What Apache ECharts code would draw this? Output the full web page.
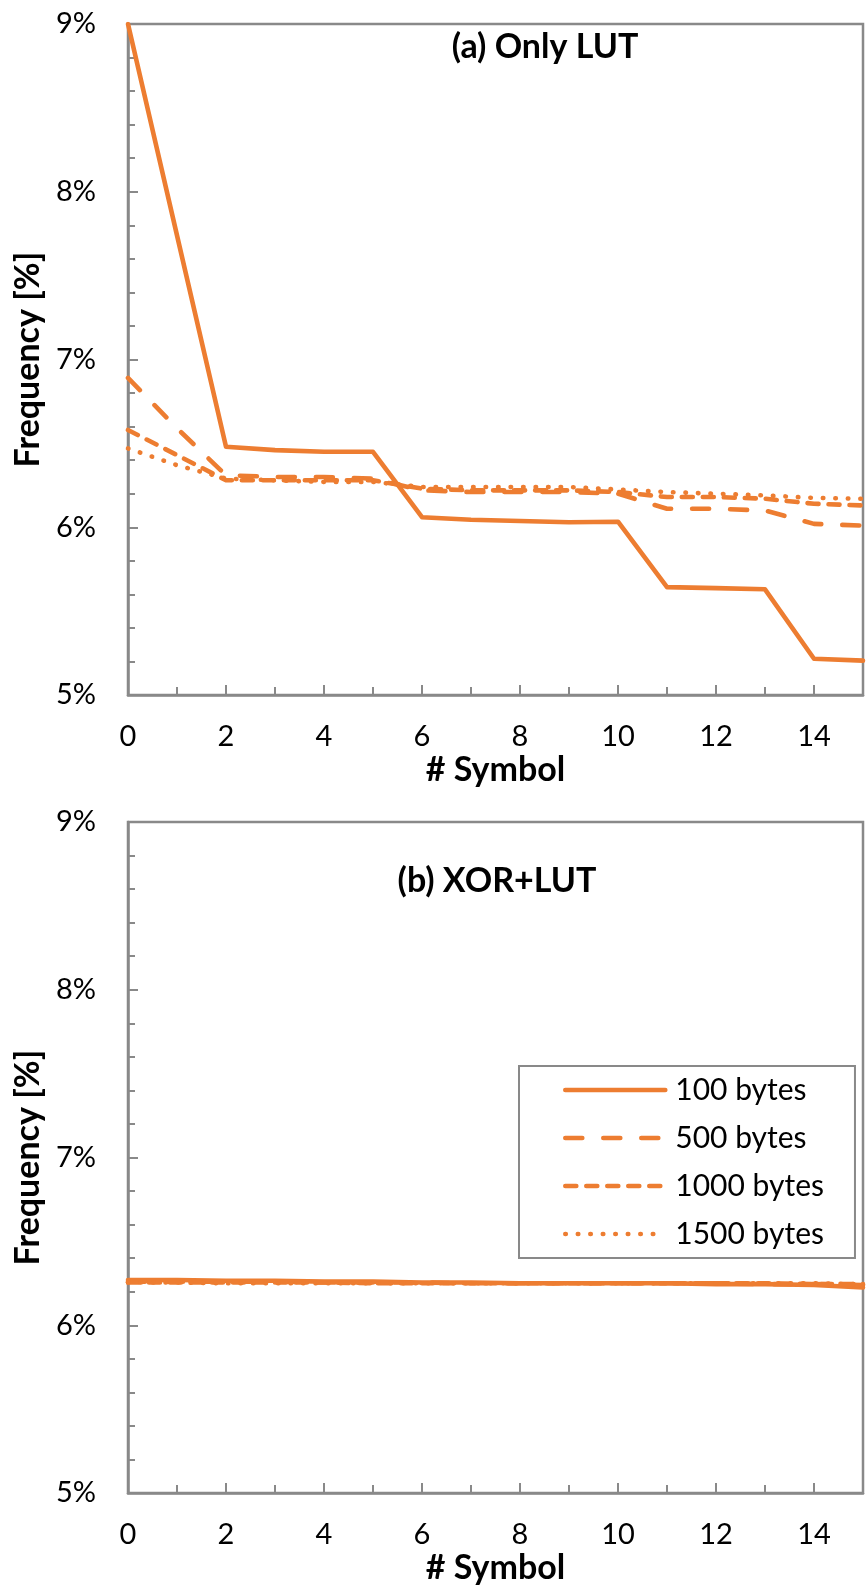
<!DOCTYPE html>
<html>
<head>
<meta charset="utf-8">
<script src="https://cdn.jsdelivr.net/npm/echarts@6/dist/echarts.min.js"></script>
<style>
  html, body { margin: 0; padding: 0; background: #ffffff; }
  #chart { width: 866px; height: 1589px; }
</style>
</head>
<body>
<div id="chart"></div>
<script>
// ---- data ----
const symbols = [0, 1, 2, 3, 4, 5, 6, 7, 8, 9, 10, 11, 12, 13, 14, 15];
const seriesNames = ['100 bytes', '500 bytes', '1000 bytes', '1500 bytes'];
const yTicks = ['5%', '6%', '7%', '8%', '9%'];

// (a) Only LUT  (values in %)
const lut100  = [9.00, 7.74, 6.48, 6.46, 6.45, 6.45, 6.06, 6.045, 6.037, 6.03, 6.033, 5.643, 5.637, 5.63, 5.216, 5.205];
const lut500  = [6.89, 6.59, 6.31, 6.30, 6.30, 6.29, 6.22, 6.21, 6.21, 6.21, 6.20, 6.11, 6.11, 6.10, 6.02, 6.01];
const lut1000 = [6.58, 6.43, 6.28, 6.28, 6.28, 6.28, 6.23, 6.22, 6.22, 6.22, 6.21, 6.18, 6.18, 6.17, 6.14, 6.13];
const lut1500 = [6.47, 6.37, 6.29, 6.28, 6.27, 6.27, 6.24, 6.24, 6.24, 6.24, 6.225, 6.21, 6.20, 6.19, 6.175, 6.17];

// (b) XOR+LUT  (values in %)
const xor100  = [6.27, 6.27, 6.265, 6.265, 6.26, 6.26, 6.255, 6.255, 6.25, 6.25, 6.25, 6.25, 6.245, 6.245, 6.24, 6.225];
const xor500  = [6.26, 6.26, 6.26, 6.26, 6.255, 6.255, 6.255, 6.25, 6.25, 6.25, 6.25, 6.25, 6.25, 6.245, 6.245, 6.24];
const xor1000 = [6.255, 6.255, 6.255, 6.255, 6.255, 6.25, 6.25, 6.25, 6.25, 6.25, 6.25, 6.25, 6.25, 6.25, 6.245, 6.245];
const xor1500 = [6.255, 6.255, 6.25, 6.25, 6.25, 6.25, 6.25, 6.25, 6.25, 6.25, 6.25, 6.25, 6.25, 6.25, 6.25, 6.245];

const titles = ['(a) Only LUT', '(b) XOR+LUT'];
const xName = '# Symbol';
const yName = 'Frequency [%]';

// ---- styling ----
const ORANGE = '#ED7D31';
const GRAY = '#898989';
const FONT = 'Lato, "Open Sans", sans-serif';
const LW = 4.6;
const lineTypes = ['solid', [17, 21], [11, 10], [0.5, 12]];

const chart = echarts.init(document.getElementById('chart'), null, { renderer: 'canvas' });

function makeX(gridIndex) {
  return {
    type: 'value', gridIndex, min: 0, max: 15, interval: 2,
    name: xName, nameLocation: 'middle', nameGap: 58,
    nameTextStyle: { fontFamily: FONT, fontWeight: 'bold', fontSize: 34, color: '#000' },
    axisLine: { show: true, onZero: false, lineStyle: { color: GRAY, width: 2.5 } },
    axisTick: { show: true, inside: true, length: 10, lineStyle: { color: GRAY, width: 2 } },
    minorTick: { show: true, splitNumber: 2, length: 8, lineStyle: { color: GRAY, width: 2 } },
    splitLine: { show: false },
    axisLabel: {
      fontFamily: FONT, fontSize: 29, color: '#000', margin: 27,
      formatter: v => (v % 2 === 0 ? String(v) : '')
    }
  };
}
function makeY(gridIndex) {
  return {
    type: 'value', gridIndex, min: 5, max: 9, interval: 1,
    name: yName, nameLocation: 'middle', nameGap: 83,
    nameTextStyle: { fontFamily: FONT, fontWeight: 'bold', fontSize: 34, color: '#000' },
    axisLine: { show: true, lineStyle: { color: GRAY, width: 2.5 } },
    axisTick: { show: true, inside: true, length: 10, lineStyle: { color: GRAY, width: 2 } },
    minorTick: { show: true, splitNumber: 5, length: 7, lineStyle: { color: GRAY, width: 2 } },
    splitLine: { show: false },
    axisLabel: {
      fontFamily: FONT, fontSize: 29, color: '#000', margin: 32,
      formatter: v => yTicks[Math.round(v) - 5]
    }
  };
}

const groups = [[lut100, lut500, lut1000, lut1500], [xor100, xor500, xor1000, xor1500]];
const series = [];
groups.forEach((grp, gi) => {
  grp.forEach((vals, si) => {
    series.push({
      name: seriesNames[si], type: 'line',
      xAxisIndex: gi, yAxisIndex: gi,
      symbol: 'none', smooth: false, clip: true,
      lineStyle: { color: ORANGE, width: LW, type: lineTypes[si], cap: 'round', join: 'round' },
      itemStyle: { color: ORANGE },
      data: symbols.map((s, i) => [s, vals[i]])
    });
  });
});

chart.setOption({
  animation: false,
  backgroundColor: '#ffffff',
  grid: [
    { left: 128, top: 24, width: 747, height: 671, show: true, borderColor: GRAY, borderWidth: 2.5, backgroundColor: 'transparent' },
    { left: 128, top: 822, width: 747, height: 671, show: true, borderColor: GRAY, borderWidth: 2.5, backgroundColor: 'transparent' }
  ],
  xAxis: [makeX(0), makeX(1)],
  yAxis: [makeY(0), makeY(1)],
  legend: {
    orient: 'vertical', left: 519, top: 1066,
    data: seriesNames,
    itemWidth: 100, itemHeight: 14, itemGap: 18,
    padding: [9, 31, 9, 44],
    borderColor: GRAY, borderWidth: 2, backgroundColor: '#fff',
    itemStyle: { opacity: 0 },
    lineStyle: { width: LW, cap: 'round', opacity: 1 },
    textStyle: { fontFamily: FONT, fontSize: 30, color: '#000', padding: [0, 0, 0, 5] },
    selectedMode: false
  },
  graphic: [
    { type: 'text', x: 545, y: 47, z: 10,
      style: { text: titles[0], fill: '#000', font: 'bold 34px ' + FONT, align: 'center', verticalAlign: 'middle', textAlign: 'center', textVerticalAlign: 'middle' } },
    { type: 'text', x: 497, y: 881, z: 10,
      style: { text: titles[1], fill: '#000', font: 'bold 34px ' + FONT, align: 'center', verticalAlign: 'middle', textAlign: 'center', textVerticalAlign: 'middle' } }
  ],
  series
});
</script>
</body>
</html>
